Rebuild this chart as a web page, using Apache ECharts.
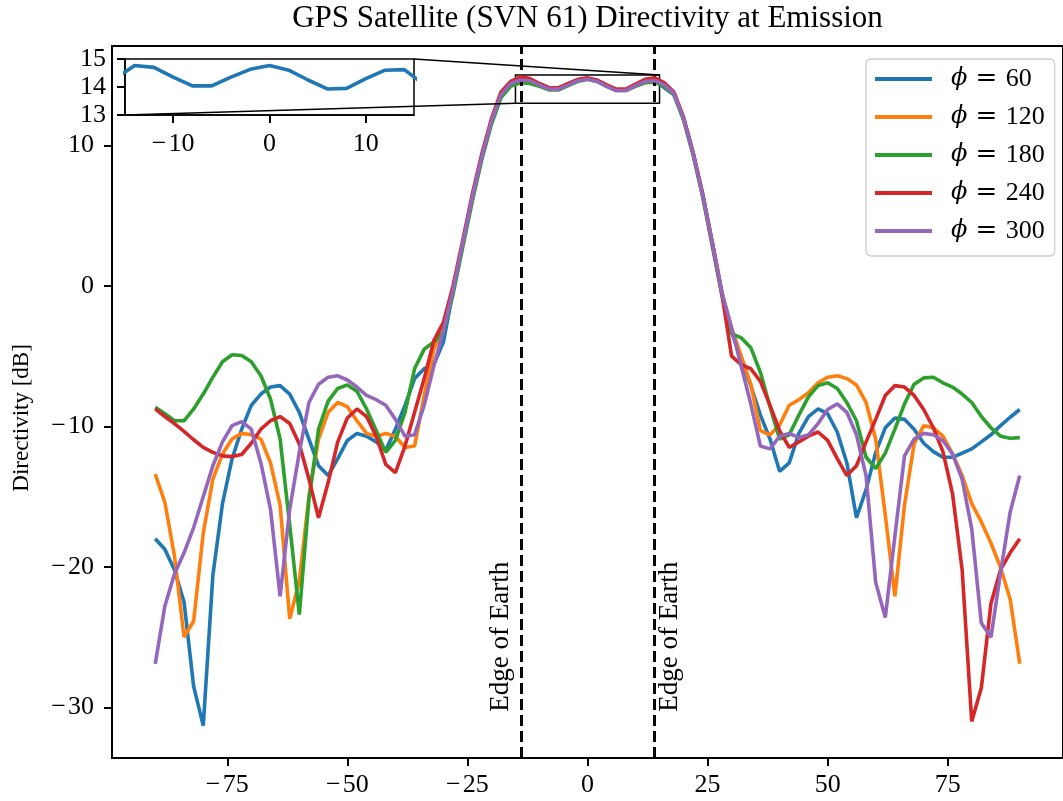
<!DOCTYPE html>
<html><head><meta charset="utf-8">
<script src="https://cdn.jsdelivr.net/npm/echarts@6/dist/echarts.min.js"></script>
<style>html,body{margin:0;padding:0;background:#fff}#c{width:1063px;height:801px}</style>
</head><body><div id="c"></div>
<script>
// ---------------- data ----------------
const angles = [-90,-88,-86,-84,-82,-80,-78,-76,-74,-72,-70,-68,-66,-64,-62,-60,-58,-56,-54,-52,-50,-48,-46,-44,-42,-40,-38,-36,-34,-32,
  -30,-28,-26,-24,-22,-20,-18,-16,-14,-12,-10,-8,-6,-4,-2,0,2,4,6,8,10,12,14,16,18,20,22,24,26,28,
  30,32,34,36,38,40,42,44,46,48,50,52,54,56,58,60,62,64,66,68,70,72,74,76,78,80,82,84,86,88,90];

const phi60 = [
  -18.0,-18.75,-20.2,-22.5,-28.5,-31.3,-20.6,-15.5,-12.3,-10.2,
  -8.5,-7.7,-7.2,-7.1,-7.7,-9.0,-10.9,-12.8,-13.5,-12.3,
  -11.0,-10.5,-10.7,-11.1,-11.7,-10.2,-8.5,-6.6,-5.9,-5.6,
  -4.0,-0.4,2.9,6.2,9.1,11.6,13.6,14.3,14.77,14.7,
  14.35,14.04,14.04,14.35,14.63,14.77,14.6,14.25,13.93,13.95,
  14.3,14.6,14.62,14.1,13.6,11.9,9.4,6.5,3.1,-0.5,
  -3.3,-5.2,-7.1,-9.2,-10.9,-13.2,-12.6,-10.5,-9.3,-8.76,
  -9.1,-10.4,-12.6,-16.5,-14.5,-11.85,-10.1,-9.4,-9.5,-10.2,
  -11.2,-11.8,-12.2,-12.2,-11.9,-11.6,-11.1,-10.6,-9.95,-9.35,
  -8.8];
const phi120 = [
  -13.4,-15.4,-19.2,-25.0,-23.85,-17.6,-13.75,-11.97,-10.9,-10.5,
  -10.6,-10.9,-12.6,-15.6,-23.7,-21.0,-15.0,-10.9,-9.0,-8.3,
  -8.6,-9.6,-10.5,-10.7,-10.5,-10.7,-11.5,-11.4,-7.8,-4.5,
  -3.0,-0.3,3.0,6.3,9.2,11.7,13.6,14.4,14.7,14.65,
  14.35,14.05,14.05,14.35,14.65,14.75,14.6,14.25,13.95,13.95,
  14.3,14.6,14.65,14.3,13.7,11.9,9.4,6.4,3.0,-0.5,
  -3.0,-5.0,-7.0,-10.3,-10.6,-9.9,-8.5,-8.1,-7.6,-6.9,
  -6.5,-6.4,-6.6,-7.05,-8.3,-10.9,-16.3,-22.1,-15.6,-11.25,
  -9.95,-10.1,-10.7,-11.95,-13.5,-15.5,-16.8,-18.3,-20.05,-22.3,
  -26.9];
const phi180 = [
  -8.64,-9.1,-9.6,-9.6,-8.76,-7.7,-6.5,-5.4,-4.9,-4.96,
  -5.4,-6.4,-8.05,-10.9,-17.0,-23.4,-15.2,-10.2,-8.2,-7.3,
  -7.05,-7.5,-8.76,-10.3,-11.85,-11.0,-9.0,-5.9,-4.5,-4.0,
  -3.3,-0.6,2.7,6.0,9.0,11.5,13.4,14.2,14.45,14.4,
  14.2,13.95,13.95,14.25,14.55,14.7,14.55,14.2,13.9,13.9,
  14.2,14.45,14.5,14.2,13.6,11.8,9.3,6.3,2.8,-0.7,
  -3.4,-3.7,-4.4,-6.15,-8.6,-10.9,-10.6,-9.2,-7.9,-7.1,
  -6.9,-7.3,-8.3,-9.6,-12.2,-13.0,-11.9,-10.2,-8.4,-7.0,
  -6.55,-6.5,-6.9,-7.2,-7.7,-8.3,-9.3,-10.1,-10.7,-10.85,
  -10.8];
const phi240 = [
  -8.76,-9.3,-9.8,-10.35,-10.95,-11.5,-11.85,-12.1,-12.15,-12.0,
  -11.2,-10.2,-9.6,-9.3,-9.8,-11.25,-13.75,-16.5,-14.0,-11.1,
  -9.4,-8.76,-9.3,-10.7,-12.7,-13.3,-11.4,-9.0,-6.6,-3.9,
  -2.6,0.0,3.2,6.5,9.4,11.9,13.8,14.55,14.88,14.75,
  14.4,14.1,14.1,14.4,14.7,14.8,14.65,14.3,14.0,14.0,
  14.35,14.7,14.8,14.45,13.8,12.0,9.5,6.5,3.0,-0.6,
  -5.0,-5.6,-5.9,-6.8,-8.5,-10.3,-11.5,-11.1,-10.7,-10.4,
  -11.0,-12.3,-13.5,-12.8,-11.1,-9.5,-7.8,-7.1,-7.2,-7.8,
  -8.8,-10.1,-11.8,-14.8,-20.2,-31.0,-28.6,-22.6,-20.2,-19.0,
  -18.0];
const phi300 = [
  -26.9,-22.8,-20.5,-19.0,-17.2,-15.0,-12.8,-11.1,-9.95,-9.66,
  -10.2,-12.6,-15.9,-22.1,-15.9,-11.85,-8.3,-7.0,-6.5,-6.4,
  -6.7,-7.2,-7.8,-8.1,-8.5,-9.5,-10.7,-10.6,-8.5,-5.7,
  -3.2,-0.3,3.0,6.3,9.2,11.7,13.6,14.4,14.65,14.6,
  14.3,14.0,14.0,14.3,14.6,14.7,14.55,14.2,13.9,13.9,
  14.25,14.55,14.6,14.3,13.7,11.9,9.4,6.4,3.0,-0.5,
  -3.0,-5.7,-8.4,-11.4,-11.6,-10.7,-10.5,-10.8,-10.6,-9.8,
  -8.8,-8.4,-9.0,-10.6,-13.5,-21.1,-23.6,-17.8,-12.1,-10.9,
  -10.5,-10.6,-11.0,-11.97,-13.75,-17.3,-24.0,-25.0,-20.4,-16.1,
  -13.5];

const seriesNames = ['60','120','180','240','300'];
const seriesValues = [phi60, phi120, phi180, phi240, phi300];
const xTicks = [-75,-50,-25,0,25,50,75];
const yTicks = [-30,-20,-10,0,10];
const insetXTicks = [-10,0,10];
const edgeOfEarth = [-13.87, 13.87];
const insetX = [-15, 15];
const insetY = [13, 15];
const titleText = 'GPS Satellite (SVN 61) Directivity at Emission';
const yName = 'Directivity [dB]';
const edgeLabel = 'Edge of Earth';

// ---------------- chart ----------------
const colors = ['#1f77b4','#ff7f0e','#2ca02c','#d62728','#9467bd'];
const FONT = 'Liberation Serif';
const minus = v => String(v).replace('-', '\u2212\u200a');
const chart = echarts.init(document.getElementById('c'), null, {renderer:'canvas'});

const series = seriesValues.map((vals, i) => ({
  name: seriesNames[i], type: 'line', xAxisIndex: 0, yAxisIndex: 0,
  data: angles.map((a, j) => [a, vals[j]]),
  symbol: 'none', showSymbol: false, silent: true, z: 2 + i,
  lineStyle: {width: 3.6, color: colors[i]}, itemStyle: {color: colors[i]}
}));
series[0].markLine = {
  silent: true, symbol: 'none', animation: false, label: {show: false},
  lineStyle: {color: '#000', type: [11, 5], width: 3},
  data: edgeOfEarth.map(x => ({xAxis: x}))
};
series[4].markArea = {
  silent: true, animation: false,
  itemStyle: {color: 'rgba(0,0,0,0)', borderColor: '#000', borderWidth: 1.5},
  data: [[{xAxis: insetX[0], yAxis: insetY[0]}, {xAxis: insetX[1], yAxis: insetY[1]}]]
};
series.push({
  name: 'inset', type: 'line', xAxisIndex: 1, yAxisIndex: 1, clip: true,
  data: angles.map((a, j) => [a, phi60[j]]).filter(p => p[0] >= insetX[0] - 2 && p[0] <= insetX[1] + 2),
  symbol: 'none', showSymbol: false, silent: true, z: 20,
  lineStyle: {width: 3.6, color: colors[0]}
});

const axisText = {color: '#000', fontFamily: FONT, fontSize: 26};
const tickStyle = {color: '#000', width: 2};

const option = {
  animation: false,
  backgroundColor: '#fff',
  grid: [
    {left: 112, top: 46, right: -4.5, bottom: 43, show: true, borderColor: '#000', borderWidth: 2, backgroundColor: 'rgba(0,0,0,0)'},
    {left: 125, top: 59, width: 289, height: 56, show: true, borderColor: '#000', borderWidth: 1.5, backgroundColor: '#fff', z: 5}
  ],
  xAxis: [
    {type: 'value', gridIndex: 0, min: -99, max: 99,
     axisLine: {show: true, onZero: false, lineStyle: tickStyle},
     axisTick: {show: true, customValues: xTicks, length: 8, lineStyle: tickStyle},
     axisLabel: Object.assign({customValues: xTicks, formatter: minus, margin: 14}, axisText),
     splitLine: {show: false}},
    {type: 'value', gridIndex: 1, min: insetX[0], max: insetX[1], z: 6,
     axisLine: {show: true, onZero: false, lineStyle: {color: '#000', width: 1.5}},
     axisTick: {show: true, customValues: insetXTicks, length: 8, lineStyle: tickStyle},
     axisLabel: Object.assign({customValues: insetXTicks, formatter: minus, margin: 16}, axisText),
     splitLine: {show: false}}
  ],
  yAxis: [
    {type: 'value', gridIndex: 0, min: -33.6, max: 17.07,
     axisLine: {show: true, onZero: false, lineStyle: tickStyle},
     axisTick: {show: true, customValues: yTicks, length: 8, lineStyle: tickStyle},
     axisLabel: Object.assign({customValues: yTicks, formatter: minus, margin: 18}, axisText),
     splitLine: {show: false}},
    {type: 'value', gridIndex: 1, min: insetY[0], max: insetY[1], interval: 1, z: 6,
     axisLine: {show: true, onZero: false, lineStyle: {color: '#000', width: 1.5}},
     axisTick: {show: true, length: 8, lineStyle: tickStyle},
     axisLabel: Object.assign({formatter: minus, margin: 19}, axisText),
     splitLine: {show: false}}
  ],
  legend: {
    data: seriesNames, orient: 'vertical', left: 866, top: 59,
    icon: 'rect', itemWidth: 57, itemHeight: 4, itemGap: 12,
    padding: [7, 10, 12, 9], borderColor: '#cccccc', borderWidth: 1.3, borderRadius: 5,
    backgroundColor: '#fff',
    formatter: n => '{p|\u03d5}{e| = }' + n,
    textStyle: {color: '#000', fontFamily: FONT, fontSize: 26, padding: [0, 0, 0, 14],
      rich: {p: {fontFamily: 'DejaVu Serif', fontStyle: 'italic', fontSize: 24, color: '#000'},
             e: {fontFamily: 'DejaVu Serif', fontSize: 26, color: '#000'}}}
  },
  series: series
};
chart.setOption(option);

const px = (idx, pt) => chart.convertToPixel({xAxisIndex: idx, yAxisIndex: idx}, pt);
const insUR = px(1, [insetX[1], insetY[1]]);
const insLL = px(1, [insetX[0], insetY[0]]);
const recUR = px(0, [insetX[1], insetY[1]]);
const recLL = px(0, [insetX[0], insetY[0]]);
const eL = px(0, [edgeOfEarth[0], -30.3]);
const eR = px(0, [edgeOfEarth[1], -30.3]);
const plotL = px(0, [-99, 0])[0], plotR = px(0, [99, 0])[0];
const yLabelPos = px(0, [-99, -9.4]);

chart.setOption({graphic: [
  {type: 'text', x: (plotL + plotR) / 2, y: 19, z: 50,
   style: {text: titleText, fill: '#000', fontFamily: FONT, fontSize: 31, align: 'center', verticalAlign: 'middle'}},
  {type: 'text', x: yLabelPos[0] - 90, y: yLabelPos[1], rotation: Math.PI / 2, z: 50,
   style: {text: yName, fill: '#000', fontFamily: FONT, fontSize: 23, align: 'center', verticalAlign: 'middle'}},
  {type: 'line', z: 50, silent: true, shape: {x1: insUR[0], y1: insUR[1], x2: recUR[0], y2: recUR[1]},
   style: {stroke: '#000', lineWidth: 1.5}},
  {type: 'line', z: 50, silent: true, shape: {x1: insLL[0], y1: insLL[1], x2: recLL[0], y2: recLL[1]},
   style: {stroke: '#000', lineWidth: 1.5}},
  {type: 'text', x: eL[0] - 20, y: eL[1], rotation: Math.PI / 2, z: 50,
   style: {text: edgeLabel, fill: '#000', fontFamily: FONT, fontSize: 27, align: 'left', verticalAlign: 'middle'}},
  {type: 'text', x: eR[0] + 16, y: eR[1], rotation: Math.PI / 2, z: 50,
   style: {text: edgeLabel, fill: '#000', fontFamily: FONT, fontSize: 27, align: 'left', verticalAlign: 'middle'}}
]});
</script>
</body></html>
